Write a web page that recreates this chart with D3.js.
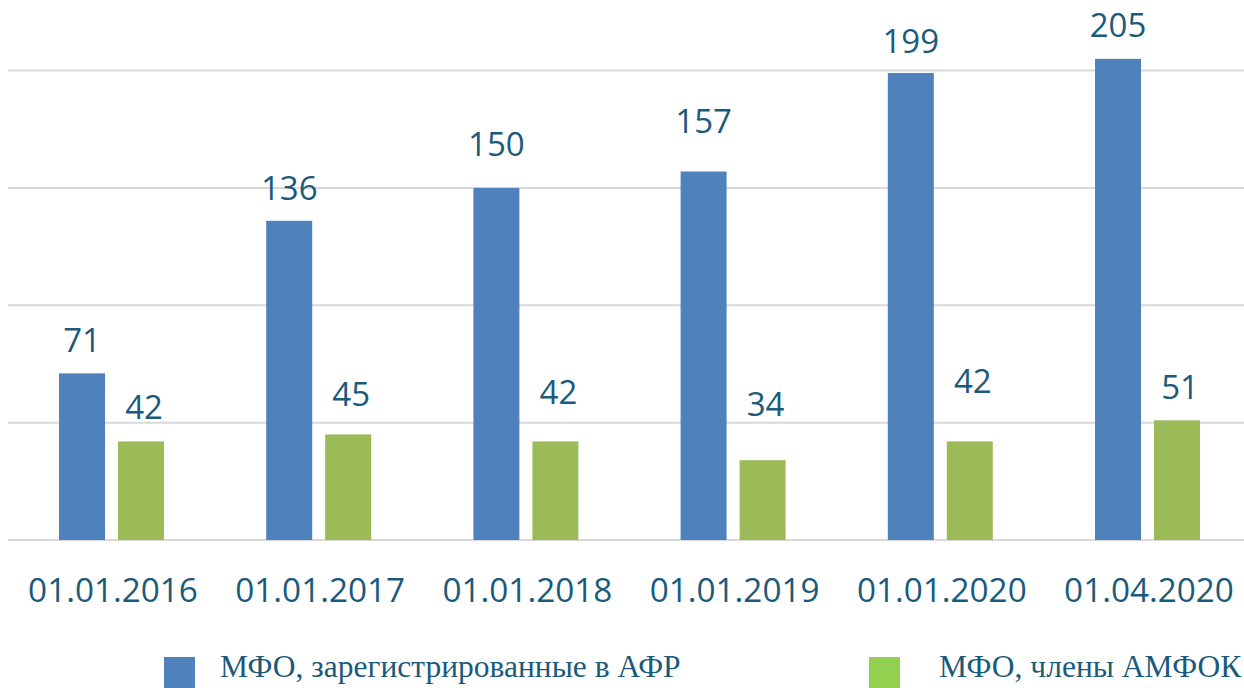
<!DOCTYPE html>
<html>
<head>
<meta charset="utf-8">
<script src="https://cdn.jsdelivr.net/npm/d3@7"></script>
<style>
  body { margin: 0; background: #fff; }
  svg { display: block; }
</style>
</head>
<body>
<div class="chart"></div>
<script>
// data
var dates = ["01.01.2016", "01.01.2017", "01.01.2018", "01.01.2019", "01.01.2020", "01.04.2020"];
var registered = [71, 136, 150, 157, 199, 205];
var members = [42, 45, 42, 34, 42, 51];
var seriesNames = ["МФО, зарегистрированные в АФР", "МФО, члены АМФОК"];
var gridTicks = [0, 50, 100, 150, 200];

// layout
var svgWidth = 1244, svgHeight = 688;
var textColor = "#1b5a7b";
var barW = 46, gap = 13;
// labels were nudged by hand in the original, lift above bar top (px)
var liftBlue = [21, 21, 32, 39, 20, 22];
var liftGreen = [22, 28, 37, 44, 48, 21];

var svg = d3.select(".chart")
    .append("svg")
    .attr("width", svgWidth)
    .attr("height", svgHeight);

// scales
var x = d3.scaleBand()
    .domain(dates)
    .range([7.9, 1251.1]);

var y = d3.scaleLinear()
    .domain([0, 200])
    .range([540, 70.6]);

// gridlines
svg.append("g").selectAll("line")
    .data(gridTicks)
    .enter().append("line")
    .attr("x1", 8)
    .attr("x2", 1244)
    .attr("y1", function(d) { return y(d); })
    .attr("y2", function(d) { return y(d); })
    .attr("stroke", "#d9d9d9")
    .attr("stroke-width", 2);

var groupStart = function(d) {
    return x(d) + x.bandwidth() / 2 - (2 * barW + gap) / 2;
};

// blue bars
svg.append("g").selectAll("rect")
    .data(dates)
    .enter().append("rect")
    .attr("x", function(d) { return groupStart(d); })
    .attr("y", function(d, i) { return y(registered[i]); })
    .attr("width", barW)
    .attr("height", function(d, i) { return y(0) - y(registered[i]); })
    .attr("fill", "#4f81bd");

// green bars
svg.append("g").selectAll("rect")
    .data(dates)
    .enter().append("rect")
    .attr("x", function(d) { return groupStart(d) + barW + gap; })
    .attr("y", function(d, i) { return y(members[i]); })
    .attr("width", barW)
    .attr("height", function(d, i) { return y(0) - y(members[i]); })
    .attr("fill", "#9bbb59");

// value labels
svg.append("g").selectAll("text")
    .data(dates)
    .enter().append("text")
    .attr("x", function(d) { return groupStart(d) + barW / 2; })
    .attr("y", function(d, i) { return y(registered[i]) - liftBlue[i]; })
    .attr("text-anchor", "middle")
    .attr("font-family", "Open Sans")
    .attr("font-size", 33)
    .attr("fill", textColor)
    .text(function(d, i) { return registered[i]; });

svg.append("g").selectAll("text")
    .data(dates)
    .enter().append("text")
    .attr("x", function(d) { return groupStart(d) + barW * 1.5 + gap + 3; })
    .attr("y", function(d, i) { return y(members[i]) - liftGreen[i]; })
    .attr("text-anchor", "middle")
    .attr("font-family", "Open Sans")
    .attr("font-size", 33)
    .attr("fill", textColor)
    .text(function(d, i) { return members[i]; });

// x axis labels
var xAxis = d3.axisBottom(x).tickSize(0).tickPadding(0);
var axisG = svg.append("g")
    .attr("transform", "translate(0,540)")
    .call(xAxis);
axisG.select(".domain").remove();
axisG.selectAll("text")
    .attr("x", 1.5)
    .attr("y", 62)
    .attr("dy", 0)
    .attr("font-family", "Open Sans")
    .attr("font-size", 33.3)
    .attr("fill", textColor);

// legend
var legendX = [164, 869];
var legendTextX = [56, 70];
var legendColors = ["#4f81bd", "#92d050"];
var legend = svg.append("g").selectAll("g")
    .data(seriesNames)
    .enter().append("g")
    .attr("transform", function(d, i) { return "translate(" + legendX[i] + ",657)"; });

legend.append("rect")
    .attr("width", 31)
    .attr("height", 31)
    .attr("fill", function(d, i) { return legendColors[i]; });

legend.append("text")
    .attr("x", function(d, i) { return legendTextX[i]; })
    .attr("y", 20)
    .attr("font-family", "Liberation Serif")
    .attr("font-size", 31.5)
    .attr("fill", textColor)
    .text(function(d) { return d; });
</script>
</body>
</html>
